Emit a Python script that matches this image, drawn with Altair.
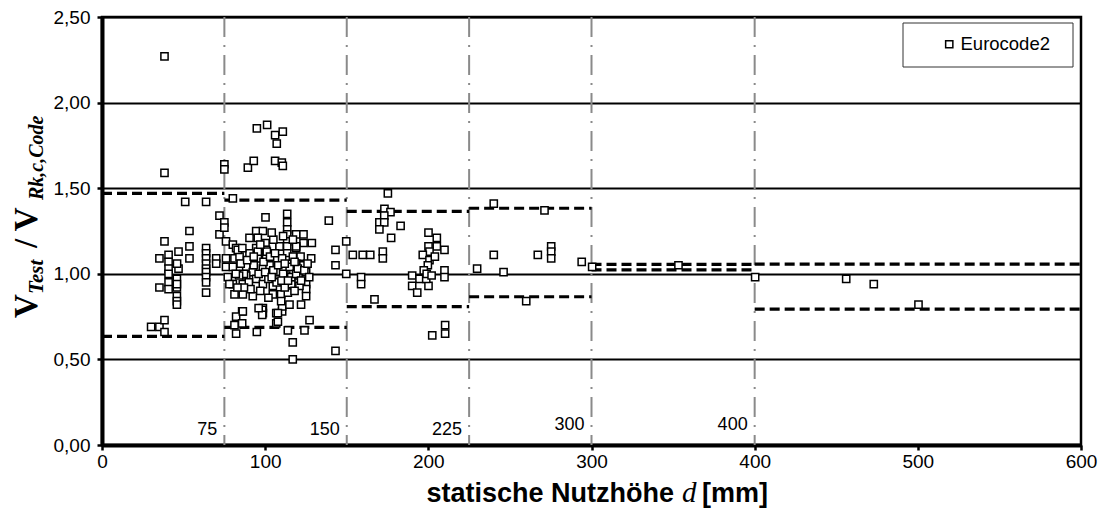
import altair as alt
import pandas as pd

# Test results: effective depth d [mm] and ratio V_Test / V_Rk,c,Code
d_mm = [
    # d < 75 mm
    38.3, 38.3, 51.0, 63.8, 53.6, 38.3, 53.6, 46.9, 40.8, 35.2, 53.6, 40.8, 46.9, 40.8,
    45.9, 40.8, 35.2, 40.8, 45.9, 45.9, 45.9, 45.9, 30.1, 35.2, 38.3, 38.3,
    63.8, 63.8, 63.8, 63.8, 63.8, 63.8, 63.8, 63.8, 63.8, 70.0, 70.0, 72.0, 72.0,
    45.9, 40.8, 46.0,
    # 75 mm <= d < 150 mm
    80.2, 75.0, 75.0, 76.0, 80.2, 82.2, 76.0, 81.2, 76.0, 80.2, 77.1, 80.2, 81.2, 86.3,
    85.9, 82.2, 85.9, 81.2, 82.2, 94.9, 78.1,
    94.9, 101.2, 106.1, 110.8, 107.1, 75.0, 75.0, 89.4, 93.0, 106.1, 110.2, 110.8,
    100.2, 113.5, 113.5, 113.5, 113.5, 113.5, 113.5, 113.5, 113.5, 119.0, 123.5, 123.5,
    128.6, 119.0, 121.7, 128.2, 119.0, 123.5, 120.4, 125.1, 125.1, 125.1, 122.0, 127.2,
    124.1, 116.9, 116.9, 113.9, 106.8, 106.8, 98.6, 98.6, 110.4, 110.4, 92.4, 88.4, 90.4,
    94.5, 98.6, 95.5, 100.2, 91.4, 95.5, 100.6, 100.6, 94.5, 108.8, 110.4, 106.8, 92.4,
    98.6, 102.7, 94.5, 98.6, 104.7, 108.8, 112.9, 116.0, 109.8, 104.7, 113.9, 109.8,
    114.9, 121.0, 86.3, 88.4, 84.3, 83.2, 139.0, 143.1, 143.1, 149.7, 149.7, 143.1,
    90.4, 95.5, 101.0, 108.8, 119.0, 86.3, 98.2, 98.2, 107.8, 107.8, 125.1,
    85.0, 87.0, 90.0, 93.0, 96.0, 97.0, 99.0, 102.0, 103.0, 105.0, 107.0, 108.0, 111.0,
    112.0, 115.0, 116.0, 117.0, 118.0, 119.0, 120.0, 122.0, 124.0, 126.0, 127.0, 105.0,
    104.0, 111.0, 117.0, 102.0, 96.0, 91.0, 89.0, 86.0, 84.0, 87.0, 100.0, 104.0, 110.0,
    114.0, 118.0, 112.0, 106.0, 97.0, 93.0, 82.0, 83.0,
    # 150 mm <= d < 225 mm
    153.7, 159.8, 164.4, 172.1, 172.1, 158.8, 158.8, 167.0, 175.2, 173.1, 176.8, 173.0,
    170.0, 173.0, 170.0, 183.0, 177.2, 200.1, 205.2, 200.1, 205.2, 209.9, 200.7, 196.6,
    200.7, 199.7, 209.9, 209.9, 197.2, 190.1, 194.6, 190.1, 193.2, 200.1, 198.7, 202.4,
    210.3, 210.3, 199.0, 202.0, 204.0,
    # 225 mm <= d < 300 mm
    240.1, 271.2, 229.9, 240.1, 246.1, 267.1, 275.3, 275.3, 275.3, 260.0, 294.0, 300.4,
    # d >= 300 mm
    353.3, 400.3, 456.1, 473.0, 500.4,
]
v_ratio = [
    2.27, 1.59, 1.42, 1.42, 1.25, 1.19, 1.16, 1.13, 1.11, 1.09, 1.09, 1.07, 1.03, 1.03,
    0.97, 0.95, 0.92, 0.91, 0.92, 0.87, 0.84, 0.82, 0.69, 0.69, 0.73, 0.66,
    1.15, 1.12, 1.09, 1.06, 1.03, 1.01, 0.98, 0.95, 0.89, 1.09, 1.06, 1.34, 1.23,
    0.94, 1.00, 1.06,
    1.44, 1.30, 1.27, 1.19, 1.17, 1.15, 1.09, 1.09, 1.04, 1.04, 0.98, 0.94, 0.88, 0.88,
    0.78, 0.75, 0.71, 0.70, 0.65, 0.66, 0.94,
    1.85, 1.87, 1.81, 1.83, 1.76, 1.64, 1.61, 1.62, 1.66, 1.66, 1.65, 1.63,
    1.33, 1.35, 1.30, 1.26, 1.23, 1.19, 1.16, 1.12, 1.08, 1.23, 1.23, 1.18,
    1.18, 1.15, 1.10, 1.09, 1.06, 1.05, 0.99, 0.94, 0.91, 0.87, 0.82, 0.73,
    0.67, 0.60, 0.50, 0.67, 0.71, 0.77, 0.77, 0.80, 0.78, 0.81, 0.87, 1.04, 1.21,
    1.25, 1.25, 1.21, 1.18, 1.11, 1.09, 1.14, 1.09, 1.15, 1.16, 1.09, 1.01, 1.01,
    1.03, 1.05, 0.97, 0.94, 0.93, 0.97, 0.99, 0.94, 0.88, 0.88, 0.89, 0.84,
    0.82, 0.93, 0.94, 0.99, 1.10, 1.14, 1.31, 1.14, 1.05, 1.19, 1.00, 0.55,
    1.12, 1.13, 1.13, 1.16, 1.16, 0.78, 0.79, 0.76, 0.77, 0.72, 1.01,
    1.06, 1.00, 0.95, 1.05, 1.00, 0.90, 1.07, 0.97, 1.10, 1.02, 0.95, 1.05, 1.00,
    0.92, 1.04, 0.98, 1.10, 0.90, 1.00, 1.03, 0.96, 1.02, 1.06, 0.98, 1.20,
    1.24, 1.22, 1.20, 0.86, 0.80, 0.91, 1.08, 1.15, 0.99, 0.92, 1.01, 0.98, 0.96,
    0.96, 1.07, 1.06, 1.12, 1.17, 1.10, 1.00, 0.92,
    1.11, 1.11, 1.11, 1.13, 1.09, 0.98, 0.94, 0.85, 1.47, 1.38, 1.36, 1.34,
    1.30, 1.30, 1.26, 1.28, 1.21, 1.24, 1.21, 1.16, 1.16, 1.14, 1.13, 1.11,
    1.08, 1.05, 1.02, 0.98, 1.02, 0.99, 0.97, 0.93, 0.89, 0.93, 0.97, 0.64,
    0.70, 0.65, 1.00, 0.99, 1.10,
    1.41, 1.37, 1.03, 1.11, 1.01, 1.11, 1.16, 1.13, 1.09, 0.84, 1.07, 1.04,
    1.05, 0.98, 0.97, 0.94, 0.82,
]

# Depth ranges with their dashed upper and lower bounds
range_start = [0, 75, 150, 225, 300, 400]
range_end = [75, 150, 225, 300, 400, 600]
upper_bound = [1.47, 1.43, 1.365, 1.383, 1.055, 1.056]
lower_bound = [0.635, 0.687, 0.808, 0.866, 1.023, 0.794]

# Range boundaries drawn as dash-dot lines
boundaries = [75, 150, 225, 300, 400]
boundary_labels = ["75", "150", "225", "300", "400"]

series_name = "Eurocode2"

W, H = 979, 428
SANS = "Liberation Sans"
SERIF = "Liberation Serif"

points_df = pd.DataFrame({"d": d_mm, "v": v_ratio, "series": series_name})
ranges_df = pd.DataFrame({
    "start": range_start + range_start,
    "end": range_end + range_end,
    "bound": upper_bound + lower_bound,
})
bounds_df = pd.DataFrame({"b": boundaries, "label": boundary_labels})
one_row = pd.DataFrame({"k": [0]})

x_scale = alt.Scale(domain=[0, 600], nice=False, zero=False)
y_scale = alt.Scale(domain=[0, 2.5], nice=False, zero=False)

x_axis = alt.Axis(
    title=None, values=[0, 100, 200, 300, 400, 500, 600], grid=False,
    labelFont=SANS, labelFontSize=19, labelColor="black", labelPadding=2,
    tickColor="black", tickSize=5, tickWidth=2.5,
    domainColor="black", domainWidth=4, labelFlush=False, zindex=0,
)
y_axis = alt.Axis(
    title=None, values=[0, 0.5, 1.0, 1.5, 2.0, 2.5], grid=True,
    gridColor="black", gridWidth=2.2, gridOpacity=1,
    labelExpr="replace(format(datum.value, '.2f'), '.', ',')",
    labelFont=SANS, labelFontSize=19, labelColor="black", labelPadding=7,
    tickColor="black", tickSize=5, tickWidth=2.5,
    domainColor="black", domainWidth=4, labelFlush=False, zindex=0,
)

X = alt.X("d:Q", scale=x_scale, axis=x_axis)
Y = alt.Y("v:Q", scale=y_scale, axis=y_axis)

# dash-dot boundary lines between depth ranges
boundary_rules = alt.Chart(bounds_df).mark_rule(
    color="#8a8a8a", strokeWidth=2, strokeDash=[20, 8, 2, 8]
).encode(x=alt.X("b:Q", scale=x_scale, axis=x_axis))

boundary_text_low = alt.Chart(bounds_df).transform_filter("datum.b < 300").mark_text(
    font=SANS, fontSize=18, color="black", align="right", baseline="middle", dx=-7
).encode(x=alt.X("b:Q", scale=x_scale, axis=x_axis), y=alt.value(H - 15), text="label:N")

boundary_text_high = alt.Chart(bounds_df).transform_filter("datum.b >= 300").mark_text(
    font=SANS, fontSize=18, color="black", align="right", baseline="middle", dx=-7
).encode(x=alt.X("b:Q", scale=x_scale, axis=x_axis), y=alt.value(H - 20), text="label:N")

# dashed bounds per depth range
range_rules = alt.Chart(ranges_df).mark_rule(
    color="black", strokeWidth=3.2, strokeDash=[10, 5]
).encode(
    x=alt.X("start:Q", scale=x_scale, axis=x_axis),
    x2="end:Q",
    y=alt.Y("bound:Q", scale=y_scale, axis=y_axis),
)

legend_box = alt.Chart(one_row).mark_rect(
    fill="white", stroke="#333333", strokeWidth=1
).encode(x=alt.value(801), x2=alt.value(971), y=alt.value(6), y2=alt.value(50))

series_legend = alt.Legend(
    title=None, orient="none", legendX=838, legendY=18, padding=0,
    labelFont=SANS, labelFontSize=18.5, labelColor="black", labelOffset=2,
    symbolType="square", symbolSize=52, symbolStrokeWidth=1.5,
    symbolFillColor="white", symbolOpacity=1,
)

points = alt.Chart(points_df).mark_point(
    shape="square", filled=False, fill="white", fillOpacity=1,
    strokeWidth=1.5, size=52, opacity=1,
).encode(
    x=X, y=Y,
    color=alt.Color("series:N", scale=alt.Scale(range=["black"]), legend=series_legend),
    shape=alt.Shape("series:N", scale=alt.Scale(range=["square"]), legend=series_legend),
)


def label_piece(text, x, y, size, style="normal", weight="bold", font=SERIF, angle=270, align="left"):
    return alt.Chart(pd.DataFrame({"t": [text]})).mark_text(
        font=font, fontSize=size, fontStyle=style, fontWeight=weight,
        color="black", angle=angle, align=align, baseline="alphabetic",
    ).encode(x=alt.value(x), y=alt.value(y), text="t:N")


# y title: V_Test / V_Rk,c,Code with subscripts
y_title = [
    label_piece("V", -65, 301, 33),
    label_piece("Test", -59, 277, 21, style="italic"),
    label_piece("/ V", -65, 231, 33),
    label_piece("Rk,c,Code", -59, 183, 20, style="italic"),
]

# x title: statische Nutzhöhe d [mm]
x_title = [
    label_piece("statische Nutzhöhe", 572, 485, 27, font=SANS, angle=0, align="right"),
    label_piece("d", 580, 485, 29, style="italic", weight="normal", angle=0),
    label_piece("[mm]", 600, 485, 27, font=SANS, angle=0),
]

chart = alt.layer(
    legend_box, boundary_rules, boundary_text_low, boundary_text_high, range_rules, points,
    *y_title, *x_title,
).properties(
    width=W, height=H,
    autosize=alt.AutoSizeParams(type="none"),
    padding={"left": 102, "top": 17, "right": 24, "bottom": 68},
    background="white",
).configure_view(stroke="black", strokeWidth=2.5)

chart.save("out.html", embed_options={"renderer": "svg", "actions": False})
